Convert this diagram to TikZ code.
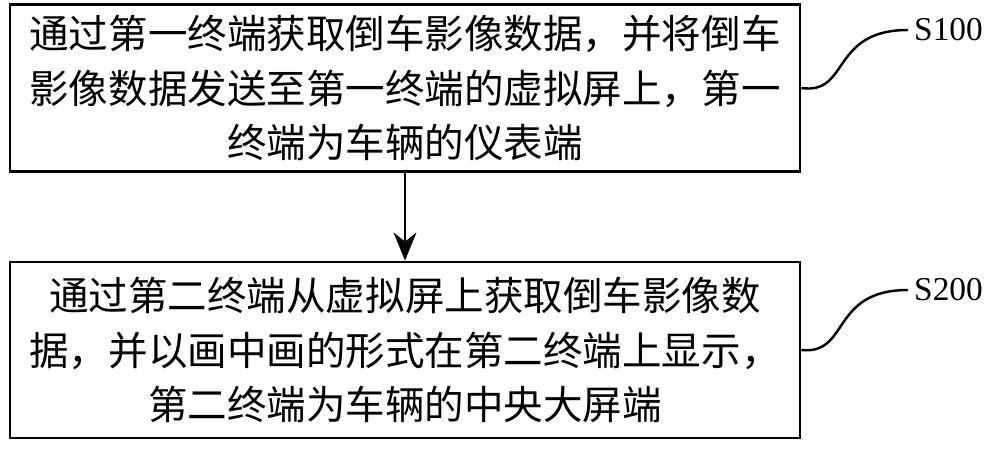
\documentclass[tikz,border=0pt]{standalone}
\usepackage{fontspec}
\setmainfont{Liberation Serif}
\newfontfamily\cjk{Noto Sans CJK SC}
\usetikzlibrary{positioning,arrows.meta}
\begin{document}
\begin{tikzpicture}[x=0.02cm,y=-0.02cm,
  stepbox/.style={draw,line width=1.6pt,minimum width=15.8cm,align=center,
    font=\cjk\fontsize{22.5}{31}\selectfont},
  tag/.style={font=\fontsize{19}{22}\selectfont}]
\useasboundingbox (0,0) rectangle (1000,450);

\node[stepbox,minimum height=3.34cm] (s1) at (405,88)
  {通过第一终端获取倒车影像数据，并将倒车\\影像数据发送至第一终端的虚拟屏上，第一\\终端为车辆的仪表端};
\node[stepbox,minimum height=3.52cm] (s2) at (405,350)
  {通过第二终端从虚拟屏上获取倒车影像数\\据，并以画中画的形式在第二终端上显示，\\第二终端为车辆的中央大屏端};

\node[tag,anchor=west] (t1) at (908,30) {S100};
\node[tag,anchor=west] (t2) at (908,290) {S200};

\draw[-{Stealth[length=16pt,width=13pt]},line width=1.6pt] (s1) -- (s2);

% leader curves
\draw[line width=1.4pt] (s1.east) .. controls (850,95) and (830,30) .. (t1.west);
\draw[line width=1.4pt] (s2.east) .. controls (850,355) and (830,290) .. (t2.west);
\end{tikzpicture}
\end{document}
